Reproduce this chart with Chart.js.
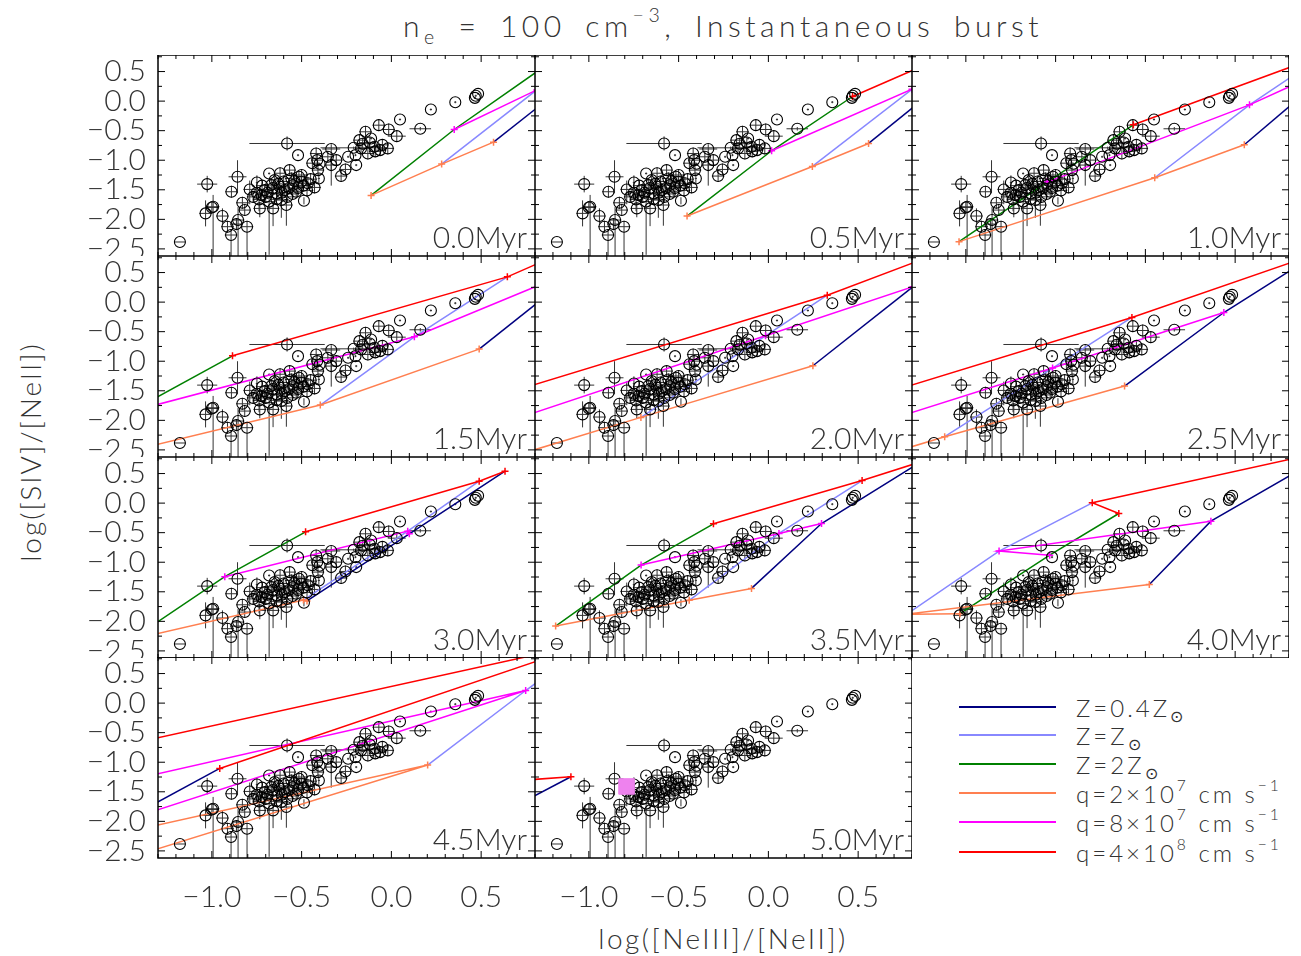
<!DOCTYPE html>
<html>
<head>
<meta charset="utf-8">
<script src="https://cdn.jsdelivr.net/npm/chart.js@4.4.0/dist/chart.umd.min.js"></script>
<style>
body { margin: 0; background: #fff; }
#wrap { position: relative; width: 1301px; height: 956px; overflow: hidden; font-family: Lato, "DejaVu Sans", sans-serif; font-weight: 300; color: #333; }
#wrap canvas { position: absolute; }
.txt { position: absolute; white-space: nowrap; line-height: 1; }
.sub { font-size: 0.65em; position: relative; top: 0.35em; }
.sup { font-size: 0.65em; position: relative; top: -0.75em; }
.lg-line { position: absolute; left: 959px; width: 97px; height: 1.5px; }
.lg-text { position: absolute; left: 1076px; font-size: 24px; letter-spacing: 3px; white-space: nowrap; transform: translateY(-50%); }
</style>
</head>
<body>
<div id="wrap">
  <div class="txt" style="left:723px;top:10px;transform:translateX(-50%);font-size:30px;letter-spacing:4.5px;word-spacing:7px">n<span class="sub">e</span> = 100 cm<span class="sup">&minus;3</span>, Instantaneous burst</div>
  <div class="txt" style="left:30px;top:452px;transform:translate(-50%,-50%) rotate(-90deg);font-size:28px;letter-spacing:2px">log([SIV]/[NeII])</div>
  <div class="txt" style="left:723px;top:938px;transform:translate(-50%,-50%);font-size:28px;letter-spacing:2.5px">log([NeIII]/[NeII])</div>
</div>

<script>
// panel ages
var ages = ['0.0Myr', '0.5Myr', '1.0Myr', '1.5Myr', '2.0Myr', '2.5Myr',
            '3.0Myr', '3.5Myr', '4.0Myr', '4.5Myr', '5.0Myr'];

var xTickVals = [-1.0, -0.5, 0.0, 0.5];
var yTickVals = [-2.5, -2.0, -1.5, -1.0, -0.5, 0.0, 0.5];

// model grid, one row per age, points for q = 2e7, 8e7, 4e8
var gridZ04 = [
  [[0.569, -0.694], [0.95, 0.22], [1.3, 0.9]],
  [[0.558, -0.716], [0.95, 0.25], [1.3, 1.0]],
  [[0.551, -0.739], [1.08, 0.63], [1.3, 1.2]],
  [[0.489, -0.795], [1.06, 0.585], [1.1, 1.03]],
  [[0.248, -1.077], [0.805, 0.26], [1.1, 1.0]],
  [[-0.116, -1.42], [0.437, -0.176], [0.96, 0.825]],
  [[-0.47, -1.655], [0.10, -0.52], [0.633, 0.539]],
  [[-0.094, -1.443], [0.296, -0.345], [0.85, 0.70]],
  [[0.022, -1.375], [0.365, -0.305], [1.06, 0.91]],
  [[-1.7, -2.84], [-1.5, -2.0], [-0.956, -1.105]],
  [[-1.9, -3.0], [-1.7, -2.2], [-1.10, -1.245]]
];
var gridZ1 = [
  [[0.280, -1.065], [0.81, 0.19], [1.2, 1.0]],
  [[0.245, -1.105], [0.80, 0.20], [1.0, 0.78]],
  [[0.052, -1.296], [0.58, -0.063], [1.0, 0.79]],
  [[-0.396, -1.741], [0.128, -0.587], [0.646, 0.427]],
  [[-0.71, -1.95], [-0.016, -0.57], [0.328, 0.117]],
  [[-1.118, -2.276], [-0.517, -1.116], [-0.075, -0.26]],
  [[-0.49, -1.64], [0.091, -0.474], [0.489, 0.370]],
  [[-0.441, -1.645], [0.059, -0.513], [0.522, 0.382]],
  [[-1.33, -1.88], [-0.815, -0.812], [-0.296, 0.005]],
  [[0.202, -1.048], [0.748, 0.213], [1.12, 1.03]],
  [[-1.9, -2.6], [-1.8, -1.9], [-1.5, -1.335]]
];
var gridZ2 = [
  [[-0.113, -1.595], [0.35, -0.48], [1.0, 0.9]],
  [[-0.453, -1.944], [0.018, -0.84], [0.469, 0.078]],
  [[-1.038, -2.377], [-0.547, -1.37], [-0.067, -0.40]],
  [[-1.7, -2.7], [-1.45, -1.85], [-0.885, -0.908]],
  [[-1.5, -2.68], [-1.5, -2.07], [-1.5, -1.58]],
  [[-1.5, -2.63], [-1.5, -2.06], [-1.5, -1.59]],
  [[-1.45, -2.31], [-0.928, -1.245], [-0.478, -0.485]],
  [[-1.185, -2.079], [-0.709, -1.048], [-0.306, -0.350]],
  [[-1.033, -1.87], [-0.533, -0.88], [-0.148, -0.176]],
  [[-1.7, -2.33], [-1.5, -1.334], [-1.5, -0.72]],
  [[-2.0, -2.5], [-1.9, -1.8], [-1.8, -1.2]]
];

// observed galaxies (same in every panel)
var obsX = [
  -1.178, -1.026, -1.035, -0.993, -1.000, -0.941, -0.891, -0.857, -0.913, -0.893,
  -0.854, -0.830, -0.817, -0.804, -0.863, -0.789, -0.749, -0.737, -0.733, -0.724,
  -0.706, -0.681, -0.681, -0.669, -0.659, -0.650, -0.637, -0.622, -0.613, -0.594,
  -0.585, -0.581, -0.567, -0.557, -0.548, -0.530, -0.520, -0.515, -0.502, -0.487,
  -0.465, -0.428, -0.419, -0.413, -0.409, -0.404, -0.335, -0.210, -0.354, -0.335,
  -0.307, -0.280, -0.256, -0.241, -0.200, -0.196, -0.178, -0.169, -0.144, -0.131,
  -0.113, -0.094, -0.070, -0.063, -0.015, -0.020, 0.030, 0.048, 0.161, 0.220,
  0.356, 0.465, 0.483, -0.720, -0.700, -0.690, -0.660, -0.640, -0.630, -0.610,
  -0.600, -0.580, -0.570, -0.550, -0.540, -0.520, -0.500, -0.490, -0.750, -0.770,
  -0.620, -0.450, -0.470, -0.440, -0.400, -0.160, -0.120, -0.090, -0.050, 0.470
];
var obsY = [
  -2.383, -1.404, -1.899, -1.787, -1.800, -1.944, -1.533, -1.280, -2.124, -2.265,
  -2.012, -1.720, -1.843, -2.124, -2.080, -1.494, -1.376, -1.663, -1.815, -1.590,
  -1.505, -1.224, -1.700, -1.420, -1.815, -1.336, -1.561, -1.449, -1.674, -1.505,
  -1.758, -0.717, -1.167, -1.308, -1.420, -1.533, -0.914, -1.280, -1.364, -1.686,
  -1.390, -1.460, -0.886, -0.998, -1.167, -1.308, -0.810, -0.790, -0.942, -1.082,
  -0.998, -1.268, -1.156, -0.942, -0.914, -1.082, -0.660, -0.800, -0.519, -0.886,
  -0.632, -0.773, -0.407, -0.829, -0.480, -0.800, -0.593, -0.311, -0.468, -0.142,
  -0.018, 0.055, 0.123, -1.430, -1.620, -1.550, -1.470, -1.660, -1.400, -1.550,
  -1.360, -1.620, -1.470, -1.570, -1.350, -1.470, -1.250, -1.430, -1.550, -1.620,
  -1.220, -1.320, -1.510, -1.050, -1.060, -0.720, -0.700, -0.850, -0.740, 0.090
];
var obsXerr = [
  0.03, 0.056, 0.035, 0.035, 0.035, 0.035, 0.035, 0.05, 0.035, 0.035,
  0.035, 0.035, 0.035, 0.035, 0.035, 0.035, 0.006, 0.035, 0.035, 0.035,
  0.035, 0.006, 0.035, 0.035, 0.035, 0.035, 0.035, 0.035, 0.035, 0.035,
  0.035, 0.21, 0.035, 0.035, 0.035, 0.035, 0.006, 0.035, 0.035, 0,
  0.035, 0.035, 0.035, 0.035, 0.035, 0.006, 0.05, 0.185, 0.035, 0.035,
  0.035, 0.035, 0.035, 0.006, 0.006, 0.006, 0.035, 0.035, 0.035, 0.035,
  0.006, 0.035, 0.035, 0.035, 0.035, 0.035, 0.05, 0.006, 0.06, 0.006,
  0.006, 0.006, 0.006, 0.035, 0.035, 0.035, 0.035, 0.035, 0.035, 0.035,
  0.035, 0.035, 0.035, 0.035, 0.035, 0.035, 0.035, 0.035, 0.035, 0.035,
  0.035, 0.035, 0.035, 0.035, 0.006, 0.035, 0.035, 0.035, 0.035, 0.006
];
var obsYlo = [
  0, 0.14, 0.22, 0.9, 0.1, 0.13, 0.1, 0.28, 0.1, 0.5,
  0.7, 0.1, 0.1, 0.5, 0.1, 0.25, 0.16, 0.2, 0.15, 0.1,
  0.1, 0.018, 0.9, 0.1, 0.3, 0.1, 0.1, 0.1, 0.3, 0.1,
  0.35, 0.12, 0.1, 0.1, 0.1, 0.1, 0.018, 0.1, 0.1, 0.06,
  0.1, 0.1, 0.1, 0.1, 0.1, 0.08, 0.62, 0.02, 0.1, 0.1,
  0.1, 0.1, 0.1, 0.018, 0.018, 0.018, 0.1, 0.1, 0.1, 0.1,
  0.018, 0.1, 0.1, 0.1, 0.1, 0.1, 0.1, 0.018, 0.03, 0.018,
  0.018, 0.018, 0.018, 0.1, 0.1, 0.1, 0.1, 0.1, 0.1, 0.1,
  0.1, 0.1, 0.1, 0.1, 0.1, 0.1, 0.1, 0.1, 0.1, 0.1,
  0.1, 0.1, 0.1, 0.1, 0.018, 0.1, 0.1, 0.1, 0.1, 0.018
];
var obsYhi = [
  0, 0.14, 0.22, 0.2, 0.1, 0.13, 0.1, 0.28, 0.1, 0.1,
  0.22, 0.1, 0.1, 0.1, 0.1, 0.15, 0.12, 0.1, 0.1, 0.1,
  0.1, 0.018, 0.1, 0.1, 0.1, 0.1, 0.1, 0.1, 0.1, 0.1,
  0.1, 0.12, 0.1, 0.1, 0.1, 0.1, 0.018, 0.1, 0.1, 0.06,
  0.1, 0.1, 0.1, 0.1, 0.1, 0.08, 0.08, 0.02, 0.1, 0.1,
  0.1, 0.1, 0.1, 0.018, 0.018, 0.018, 0.1, 0.1, 0.1, 0.1,
  0.018, 0.1, 0.1, 0.1, 0.1, 0.1, 0.1, 0.018, 0.03, 0.018,
  0.018, 0.018, 0.018, 0.1, 0.1, 0.1, 0.1, 0.1, 0.1, 0.1,
  0.1, 0.1, 0.1, 0.1, 0.1, 0.1, 0.1, 0.1, 0.1, 0.1,
  0.1, 0.1, 0.1, 0.1, 0.018, 0.1, 0.1, 0.1, 0.1, 0.018
];

// the filled square shown in the 5.0Myr panel
var markX = [-0.79];
var markY = [-1.41];

var legendLabels = [
  'Z=0.4Z<span class="sub">\u2299</span>',
  'Z=Z<span class="sub">\u2299</span>',
  'Z=2Z<span class="sub">\u2299</span>',
  'q=2\u00d710<span class="sup">7</span> cm s<span class="sup">\u22121</span>',
  'q=8\u00d710<span class="sup">7</span> cm s<span class="sup">\u22121</span>',
  'q=4\u00d710<span class="sup">8</span> cm s<span class="sup">\u22121</span>'
];

var cZ04 = '#000080', cZ1 = '#8888ff', cZ2 = '#008000';
var cQ1 = '#ff7f50', cQ2 = '#ff00ff', cQ3 = '#ff0000';
var legendColors = [cZ04, cZ1, cZ2, cQ1, cQ2, cQ3];

var colLeft = [158, 535, 912];
var rowTop = [55, 256, 457, 657];
var PW = 377, PH = 201, LM = 158, BM = 70;
var FONT = 'Lato';

function fmt(v) {
  return (v < 0 ? '\u2212' : '') + Math.abs(v).toFixed(1);
}

function pts(arr) {
  return arr.map(function (p) { return {x: p[0], y: p[1]}; });
}

function lineSet(data, color, marks) {
  return {
    data: pts(data), showLine: true, borderColor: color, borderWidth: 1.5,
    backgroundColor: color, pointStyle: 'cross', pointRadius: marks ? 3.5 : 0,
    pointBorderColor: color, pointBorderWidth: 1.5, pointHoverRadius: 0, tension: 0
  };
}

// no extra room around the plot box: it must sit exactly on the grid
function noPad(s) {
  s.paddingTop = 0; s.paddingBottom = 0; s.paddingLeft = 0; s.paddingRight = 0;
}

// error bars on the observed points, drawn under the markers
var errorBars = {
  id: 'errorBars',
  beforeDatasetsDraw: function (chart) {
    var ctx = chart.ctx, a = chart.chartArea, xs = chart.scales.x, ys = chart.scales.y;
    ctx.save();
    ctx.beginPath();
    ctx.rect(a.left, a.top, a.right - a.left, a.bottom - a.top);
    ctx.clip();
    ctx.strokeStyle = '#333';
    ctx.lineWidth = 1;
    ctx.beginPath();
    for (var i = 0; i < obsX.length; i++) {
      var px = xs.getPixelForValue(obsX[i]), py = ys.getPixelForValue(obsY[i]);
      if (obsXerr[i] > 0) {
        ctx.moveTo(xs.getPixelForValue(obsX[i] - obsXerr[i]), py);
        ctx.lineTo(xs.getPixelForValue(obsX[i] + obsXerr[i]), py);
      }
      if (obsYlo[i] + obsYhi[i] > 0) {
        ctx.moveTo(px, ys.getPixelForValue(obsY[i] - obsYlo[i]));
        ctx.lineTo(px, ys.getPixelForValue(obsY[i] + obsYhi[i]));
      }
    }
    ctx.stroke();
    ctx.restore();
  }
};

// box, inward ticks on all four sides, age label
var frame = {
  id: 'frame',
  afterDraw: function (chart, args, opts) {
    var ctx = chart.ctx, a = chart.chartArea, xs = chart.scales.x, ys = chart.scales.y;
    ctx.save();
    ctx.strokeStyle = '#000';
    ctx.lineWidth = 1;
    ctx.beginPath();
    for (var k = -13; k <= 8; k++) {
      var px = xs.getPixelForValue(k / 10), len = (k % 5 === 0) ? 7 : 4;
      ctx.moveTo(px, a.bottom); ctx.lineTo(px, a.bottom - len);
      ctx.moveTo(px, a.top); ctx.lineTo(px, a.top + len);
    }
    for (var j = -10; j <= 3; j++) {
      var py = ys.getPixelForValue(j / 4), ln = (j % 2 === 0) ? 7 : 4;
      ctx.moveTo(a.left, py); ctx.lineTo(a.left + ln, py);
      ctx.moveTo(a.right, py); ctx.lineTo(a.right - ln, py);
    }
    ctx.stroke();
    ctx.lineWidth = 1.5;
    ctx.strokeRect(a.left, a.top, a.right - a.left, a.bottom - a.top);
    ctx.fillStyle = '#333';
    ctx.font = '300 30px ' + FONT;
    ctx.textAlign = 'right';
    ctx.textBaseline = 'alphabetic';
    ctx.fillText(opts.label, a.right - 8, a.bottom - 8);
    ctx.restore();
  }
};

var wrap = document.getElementById('wrap');

ages.forEach(function (age, p) {
  var col = p % 3, row = Math.floor(p / 3);
  var hasY = col === 0, hasX = row === 3;
  var w = hasY ? LM + PW : PW, h = hasX ? PH + BM : PH;
  var cv = document.createElement('canvas');
  cv.width = w; cv.height = h;
  cv.style.width = w + 'px'; cv.style.height = h + 'px';
  cv.style.left = (hasY ? 0 : colLeft[col]) + 'px';
  cv.style.top = rowTop[row] + 'px';
  wrap.appendChild(cv);

  var q1 = [gridZ2[p][0], gridZ1[p][0], gridZ04[p][0]];
  var q2 = [gridZ2[p][1], gridZ1[p][1], gridZ04[p][1]];
  var q3 = [gridZ2[p][2], gridZ1[p][2], gridZ04[p][2]];

  var datasets = [];
  if (p === 10) {
    datasets.push({
      data: markX.map(function (x, i) { return {x: x, y: markY[i]}; }),
      pointStyle: 'rect', pointRadius: 11, pointHoverRadius: 11,
      borderColor: '#ee82ee', backgroundColor: '#ee82ee', borderWidth: 1
    });
  }
  datasets.push({
    data: obsX.map(function (x, i) { return {x: x, y: obsY[i]}; }),
    pointStyle: 'circle', pointRadius: 5.5, pointHoverRadius: 5.5,
    borderColor: '#000', backgroundColor: 'rgba(0,0,0,0)', borderWidth: 1.1
  });
  datasets.push(lineSet(q3, cQ3, true));
  datasets.push(lineSet(q2, cQ2, true));
  datasets.push(lineSet(q1, cQ1, true));
  datasets.push(lineSet(gridZ2[p], cZ2, false));
  datasets.push(lineSet(gridZ1[p], cZ1, false));
  datasets.push(lineSet(gridZ04[p], cZ04, false));

  new Chart(cv, {
    type: 'scatter',
    data: {datasets: datasets},
    options: {
      responsive: false,
      animation: false,
      devicePixelRatio: 1,
      layout: {padding: 0, autoPadding: false},
      plugins: {legend: {display: false}, tooltip: {enabled: false}, frame: {label: age}},
      events: [],
      scales: {
        x: {
          type: 'linear', min: -1.3, max: 0.8, display: hasX,
          grid: {display: false, drawTicks: false}, border: {display: false},
          afterBuildTicks: function (s) { s.ticks = xTickVals.map(function (v) { return {value: v}; }); },
          afterFit: function (s) { s.height = hasX ? BM : 0; noPad(s); },
          ticks: {padding: 21, color: '#333', maxRotation: 0, autoSkip: false,
                  font: {family: FONT, size: 30, weight: '300'}, callback: fmt}
        },
        y: {
          type: 'linear', min: -2.62, max: 0.78, display: hasY,
          grid: {display: false, drawTicks: false}, border: {display: false},
          afterBuildTicks: function (s) { s.ticks = yTickVals.map(function (v) { return {value: v}; }); },
          afterFit: function (s) { s.width = hasY ? LM : 0; noPad(s); },
          ticks: {padding: 12, color: '#333', autoSkip: false,
                  font: {family: FONT, size: 30, weight: '300'}, callback: fmt}
        }
      }
    },
    plugins: [errorBars, frame]
  });
});

// legend in the empty twelfth cell
var legendRows = [707, 735, 764, 793, 822, 852];
legendLabels.forEach(function (lab, i) {
  var ln = document.createElement('div');
  ln.className = 'lg-line';
  ln.style.top = (legendRows[i] - 0.75) + 'px';
  ln.style.background = legendColors[i];
  wrap.appendChild(ln);
  var tx = document.createElement('div');
  tx.className = 'lg-text';
  tx.style.top = legendRows[i] + 'px';
  tx.innerHTML = lab;
  wrap.appendChild(tx);
});
</script>
</body>
</html>
